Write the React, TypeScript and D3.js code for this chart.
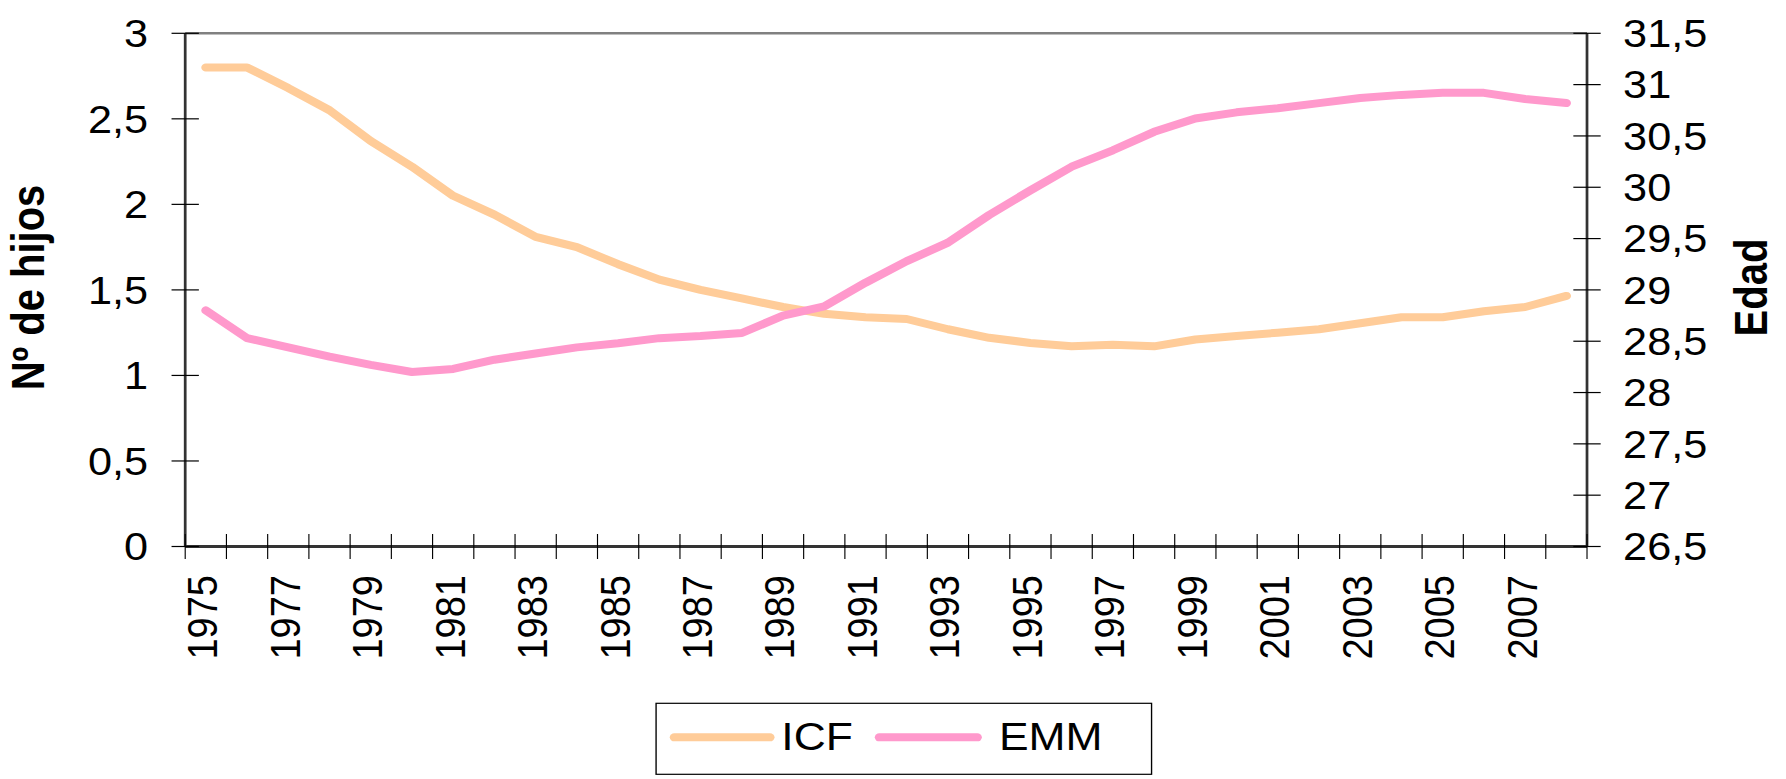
import React from "react";
import * as d3 from "d3";

const years = [
  "1975","1976","1977","1978","1979","1980","1981","1982","1983","1984",
  "1985","1986","1987","1988","1989","1990","1991","1992","1993","1994",
  "1995","1996","1997","1998","1999","2000","2001","2002","2003","2004",
  "2005","2006","2007","2008",
];
const icf = [
  2.80, 2.80, 2.68, 2.55, 2.37, 2.22, 2.05, 1.94, 1.81, 1.75,
  1.65, 1.56, 1.50, 1.45, 1.40, 1.36, 1.34, 1.33, 1.27, 1.22,
  1.19, 1.17, 1.18, 1.17, 1.21, 1.23, 1.25, 1.27, 1.305, 1.34,
  1.34, 1.375, 1.40, 1.465,
];
const emm = [
  28.80, 28.53, 28.44, 28.35, 28.27, 28.20, 28.23, 28.32, 28.38, 28.44,
  28.48, 28.53, 28.55, 28.58, 28.75, 28.84, 29.07, 29.28, 29.46, 29.73,
  29.97, 30.20, 30.36, 30.54, 30.67, 30.73, 30.77, 30.82, 30.87, 30.90,
  30.92, 30.92, 30.86, 30.82,
];
const leftTicks = [0, 0.5, 1, 1.5, 2, 2.5, 3];
const rightTicks = [26.5, 27, 27.5, 28, 28.5, 29, 29.5, 30, 30.5, 31, 31.5];
const xLabelYears = years.filter((_, i) => i % 2 === 0);
const seriesNames = ["ICF", "EMM"];
const seriesColors = ["#FFCC99", "#FF99CC"];
const leftTitle = "Nº de hijos";
const rightTitle = "Edad";

const VW = 1568;
const VH = 779;
const PL = 162.6;
const PR = 1393.3;
const PT = 33.3;
const PB = 546.5;
const FONT = "'Liberation Sans', Arial, sans-serif";
const fmt = (v: number) => String(v).replace(".", ",");

export default function App() {
  const x = d3.scaleBand<string>().domain(years).range([PL, PR]).padding(0);
  const cx = (y: string) => (x(y) as number) + x.bandwidth() / 2;
  const yL = d3.scaleLinear().domain([0, 3]).range([PB, PT]);
  const yR = d3.scaleLinear().domain([26.5, 31.5]).range([PB, PT]);

  const lineL = d3
    .line<number>()
    .x((_, i) => cx(years[i]))
    .y((d) => yL(d));
  const lineR = d3
    .line<number>()
    .x((_, i) => cx(years[i]))
    .y((d) => yR(d));

  const boundaries = years.map((y) => x(y) as number).concat([PR]);

  return (
    <svg
      width={1786}
      height={779}
      viewBox={`0 0 ${VW} ${VH}`}
      preserveAspectRatio="none"
      style={{ position: "absolute", left: 0, top: 0, background: "#fff" }}
      fontFamily={FONT}
    >
      <rect x={0} y={0} width={VW} height={VH} fill="#fff" />
      {/* top border */}
      <line x1={PL} x2={PR} y1={PT} y2={PT} stroke="#808080" strokeWidth={2.6} />
      {/* lines */}
      <path d={lineL(icf) || ""} fill="none" stroke={seriesColors[0]} strokeWidth={8} strokeLinejoin="round" strokeLinecap="round" />
      <path d={lineR(emm) || ""} fill="none" stroke={seriesColors[1]} strokeWidth={8} strokeLinejoin="round" strokeLinecap="round" />
      {/* axes */}
      <line x1={PL} x2={PL} y1={PT} y2={PB} stroke="#333" strokeWidth={2.4} />
      <line x1={PR} x2={PR} y1={PT} y2={PB} stroke="#333" strokeWidth={2.4} />
      <line x1={PL} x2={PR} y1={PB} y2={PB} stroke="#333" strokeWidth={2.8} />
      {leftTicks.map((t) => (
        <g key={"l" + t}>
          <line x1={PL - 12} x2={PL + 12} y1={yL(t)} y2={yL(t)} stroke="#000" strokeWidth={1.2} />
          <text x={130} y={yL(t)} dy="0.36em" textAnchor="end" fontSize={38} fill="#000">
            {fmt(t)}
          </text>
        </g>
      ))}
      {rightTicks.map((t) => (
        <g key={"r" + t}>
          <line x1={PR - 12} x2={PR + 12} y1={yR(t)} y2={yR(t)} stroke="#000" strokeWidth={1.2} />
          <text x={1425} y={yR(t)} dy="0.36em" textAnchor="start" fontSize={38} fill="#000">
            {fmt(t)}
          </text>
        </g>
      ))}
      {boundaries.map((b, i) => (
        <line key={"xt" + i} x1={b} x2={b} y1={PB - 12.5} y2={PB + 12.5} stroke="#000" strokeWidth={1} />
      ))}
      {xLabelYears.map((y) => (
        <text
          key={"xl" + y}
          transform={`translate(${cx(y) + 10},575) rotate(-90)`}
          textAnchor="end"
          fontSize={38}
          fill="#000"
        >
          {y}
        </text>
      ))}
      <text transform="translate(38.5,287.5) rotate(-90)" textAnchor="middle" fontSize={40} fontWeight="bold" fill="#000">
        {leftTitle}
      </text>
      <text transform="translate(1551,287.5) rotate(-90)" textAnchor="middle" fontSize={40} fontWeight="bold" fill="#000">
        {rightTitle}
      </text>
      {/* legend */}
      <rect x={576} y={703.3} width={435} height={71} fill="#fff" stroke="#000" strokeWidth={1.2} />
      <line x1={592} x2={676} y1={737.3} y2={737.3} stroke={seriesColors[0]} strokeWidth={8} strokeLinecap="round" />
      <text x={686} y={750.5} fontSize={39} fill="#000">{seriesNames[0]}</text>
      <line x1={772} x2={858} y1={737.3} y2={737.3} stroke={seriesColors[1]} strokeWidth={8} strokeLinecap="round" />
      <text x={877} y={750.5} fontSize={39} fill="#000">{seriesNames[1]}</text>
    </svg>
  );
}
